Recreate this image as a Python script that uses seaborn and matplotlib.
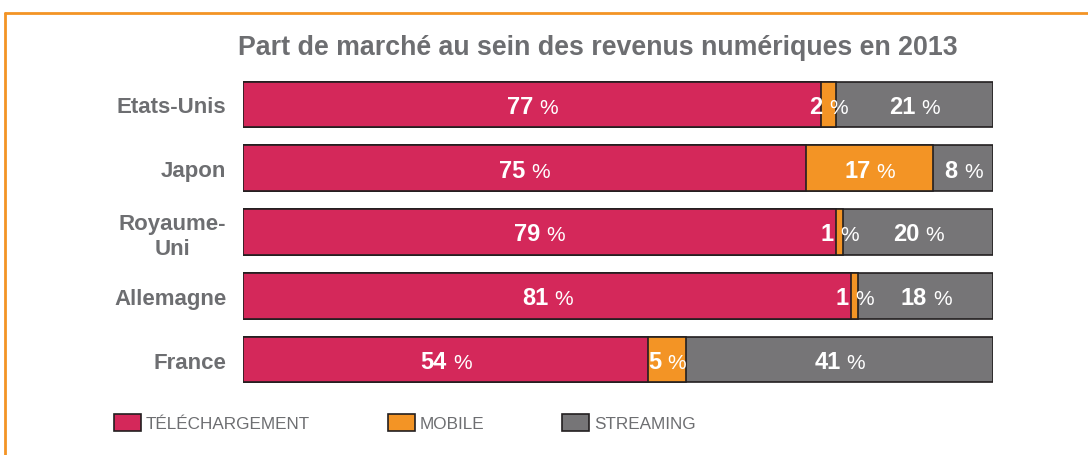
import matplotlib
matplotlib.use("Agg")
import matplotlib.pyplot as plt
import seaborn as sns
import pandas as pd
from matplotlib.patches import Patch
from matplotlib.lines import Line2D

pays = ["Etats-Unis", "Japon", "Royaume-\nUni", "Allemagne", "France"]
telechargement = [77, 75, 79, 81, 54]
mobile = [2, 17, 1, 1, 5]
streaming = [21, 8, 20, 18, 41]

couleurs = {"TÉLÉCHARGEMENT": "#d4285a", "MOBILE": "#f39425", "STREAMING": "#767577"}
gris_texte = "#6d6e71"
bord = "#231f20"

df = pd.DataFrame({"pays": pays, "tele": telechargement, "mobile": mobile, "streaming": streaming})
df["cum_mobile"] = df["tele"] + df["mobile"]
df["total"] = df["cum_mobile"] + df["streaming"]

sns.set_style("white")
plt.rcParams["font.family"] = ["Liberation Sans", "DejaVu Sans"]

fig = plt.figure(figsize=(10.88, 4.56), dpi=100)
ax = fig.add_axes([243 / 1088, 1 - 392.4 / 456, 750 / 1088, (392.4 - 73.6) / 456])

# barres empilées : on dessine le total puis on recouvre
for col, c in [("total", "STREAMING"), ("cum_mobile", "MOBILE"), ("tele", "TÉLÉCHARGEMENT")]:
    sns.barplot(data=df, x=col, y="pays", orient="h", color=couleurs[c], width=0.72,
                edgecolor=bord, linewidth=1.2, saturation=1, ax=ax)

ax.set_xlim(0, 100)
ax.set_ylim(4.5, -0.5)
ax.set_xlabel("")
ax.set_ylabel("")
ax.set_xticks([])
ax.tick_params(axis="y", length=0, pad=12)
for lab in ax.get_yticklabels():
    lab.set_fontsize(16)
    lab.set_fontweight("bold")
    lab.set_color(gris_texte)
    lab.set_multialignment("center")
sns.despine(ax=ax, left=True, bottom=True)


def etiquette(x, y, val):
    # nombre en gras + "%" en normal, centrés ensemble sur x
    w_num = len(str(val)) * 13.1
    dx = (w_num - 23.5) / 2 / 1.389
    ax.annotate(str(val), (x, y), xytext=(dx, -6.1), textcoords="offset points",
                ha="right", va="baseline", color="white", fontsize=17, fontweight="bold")
    ax.annotate("%", (x, y), xytext=(dx + 4.3, -6.1), textcoords="offset points",
                ha="left", va="baseline", color="white", fontsize=15)


for i in range(len(pays)):
    etiquette(telechargement[i] / 2, i, telechargement[i])
    etiquette(telechargement[i] + mobile[i] / 2, i, mobile[i])
    etiquette(telechargement[i] + mobile[i] + streaming[i] / 2, i, streaming[i])

fig.text(598 / 1088, 1 - 48 / 456, "Part de marché au sein des revenus numériques en 2013",
         ha="center", va="center", fontsize=19.3, fontweight="bold", color=gris_texte)

handles = [Patch(facecolor=v, edgecolor=bord, linewidth=1.2) for v in couleurs.values()]
fig.legend(handles, list(couleurs.keys()), loc="upper left",
           bbox_to_anchor=(114 / 1088, 1 - 415 / 456), ncol=3, frameon=False,
           fontsize=12.3, labelcolor=gris_texte, handlelength=1.58, handleheight=1.17,
           handletextpad=0.25, columnspacing=4.6, borderpad=0, borderaxespad=0)

# cadre orange
orange = "#f39425"
fig.add_artist(Line2D([5 / 1088, 1], [1 - 14 / 456] * 2, color=orange, lw=2, transform=fig.transFigure))
fig.add_artist(Line2D([5 / 1088] * 2, [0, 1 - 14 / 456], color=orange, lw=2, transform=fig.transFigure))

fig.savefig("out.png", dpi=100)
